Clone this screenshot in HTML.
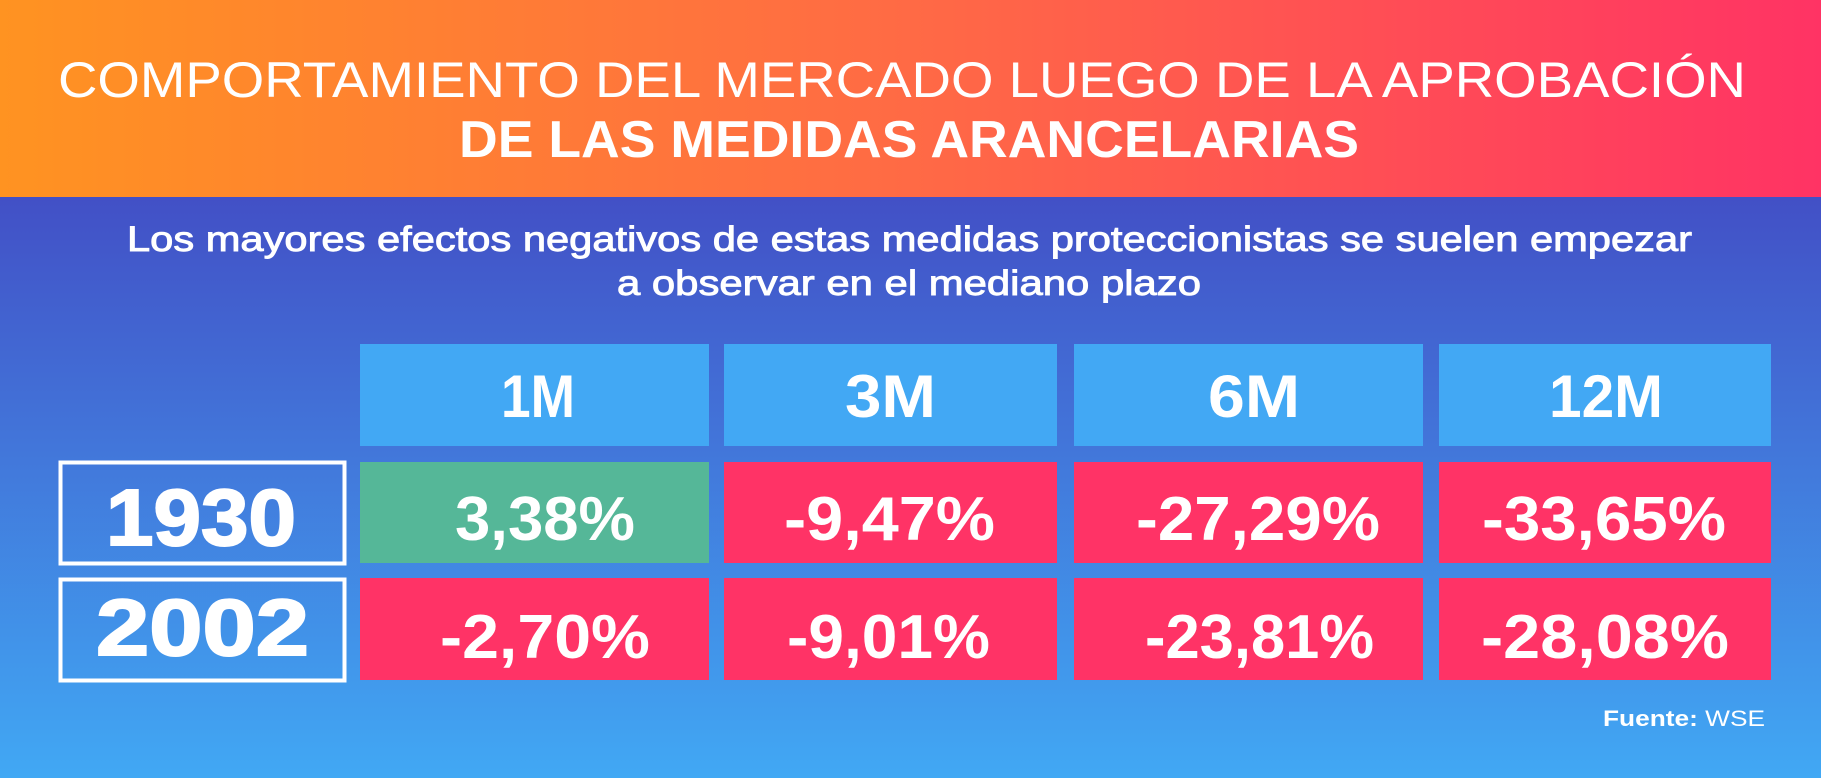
<!DOCTYPE html>
<html><head><meta charset="utf-8"><style>
html,body{margin:0;padding:0;width:1821px;height:778px;overflow:hidden}
svg{display:block}
text{font-family:"Liberation Sans",sans-serif;fill:#fff}
</style></head><body>
<svg width="1821" height="778" viewBox="0 0 1821 778" xmlns="http://www.w3.org/2000/svg">
<defs>
<linearGradient id="hg" x1="0" y1="0" x2="1" y2="0"><stop offset="0" stop-color="#FF9321"/><stop offset="0.5" stop-color="#FF6A45"/><stop offset="1" stop-color="#FF3364"/></linearGradient>
<linearGradient id="bg" x1="0" y1="0" x2="0" y2="1"><stop offset="0" stop-color="#4250C6"/><stop offset="1" stop-color="#41A8F4"/></linearGradient>
</defs>
<rect x="0" y="197" width="1821" height="581" fill="url(#bg)"/>
<rect x="0" y="0" width="1821" height="197" fill="url(#hg)"/>
<text x="58" y="97" font-size="50" textLength="1688" lengthAdjust="spacingAndGlyphs">COMPORTAMIENTO DEL MERCADO LUEGO DE LA APROBACIÓN</text>
<text x="459" y="157" font-size="52" font-weight="bold" textLength="900" lengthAdjust="spacingAndGlyphs">DE LAS MEDIDAS ARANCELARIAS</text>
<text x="127" y="251" font-size="35" stroke="#fff" stroke-width="0.9" textLength="1565" lengthAdjust="spacingAndGlyphs">Los mayores efectos negativos de estas medidas proteccionistas se suelen empezar</text>
<text x="617" y="295" font-size="35" stroke="#fff" stroke-width="0.9" textLength="584" lengthAdjust="spacingAndGlyphs">a observar en el mediano plazo</text>

<g fill="#42A8F4">
<rect x="360" y="344" width="349" height="102"/><rect x="724" y="344" width="333" height="102"/>
<rect x="1074" y="344" width="349" height="102"/><rect x="1439" y="344" width="332" height="102"/>
</g>
<rect x="360" y="462" width="349" height="101" fill="#55B798"/>
<g fill="#FF3366">
<rect x="724" y="462" width="333" height="101"/><rect x="1074" y="462" width="349" height="101"/><rect x="1439" y="462" width="332" height="101"/>
<rect x="360" y="578" width="349" height="102"/><rect x="724" y="578" width="333" height="102"/><rect x="1074" y="578" width="349" height="102"/><rect x="1439" y="578" width="332" height="102"/>
</g>
<rect x="60.5" y="462.5" width="284" height="101" fill="none" stroke="#fff" stroke-width="4"/>
<rect x="60.5" y="579.5" width="284" height="101" fill="none" stroke="#fff" stroke-width="4"/>

<g font-weight="bold">
<text x="501" y="417" font-size="60" textLength="74" lengthAdjust="spacingAndGlyphs">1M</text>
<text x="845" y="417" font-size="60" textLength="91" lengthAdjust="spacingAndGlyphs">3M</text>
<text x="1208" y="417" font-size="60" textLength="92" lengthAdjust="spacingAndGlyphs">6M</text>
<text x="1549" y="417" font-size="60" textLength="114" lengthAdjust="spacingAndGlyphs">12M</text>
<text x="106" y="545" font-size="80" stroke="#fff" stroke-width="2" textLength="190" lengthAdjust="spacingAndGlyphs">1930</text>
<text x="96" y="655" font-size="80" stroke="#fff" stroke-width="2" textLength="213" lengthAdjust="spacingAndGlyphs">2002</text>
<text x="455" y="540" font-size="62" textLength="180" lengthAdjust="spacingAndGlyphs">3,38%</text>
<text x="784" y="540" font-size="62" textLength="211" lengthAdjust="spacingAndGlyphs">-9,47%</text>
<text x="1136" y="540" font-size="62" textLength="244" lengthAdjust="spacingAndGlyphs">-27,29%</text>
<text x="1482" y="540" font-size="62" textLength="244" lengthAdjust="spacingAndGlyphs">-33,65%</text>
<text x="440" y="658" font-size="62" textLength="210" lengthAdjust="spacingAndGlyphs">-2,70%</text>
<text x="787" y="658" font-size="62" textLength="203" lengthAdjust="spacingAndGlyphs">-9,01%</text>
<text x="1145" y="658" font-size="62" textLength="229" lengthAdjust="spacingAndGlyphs">-23,81%</text>
<text x="1481" y="658" font-size="62" textLength="248" lengthAdjust="spacingAndGlyphs">-28,08%</text>
</g>
<text x="1603" y="726" font-size="22" textLength="162" lengthAdjust="spacingAndGlyphs"><tspan font-weight="bold">Fuente:</tspan> WSE</text>
</svg>
</body></html>
